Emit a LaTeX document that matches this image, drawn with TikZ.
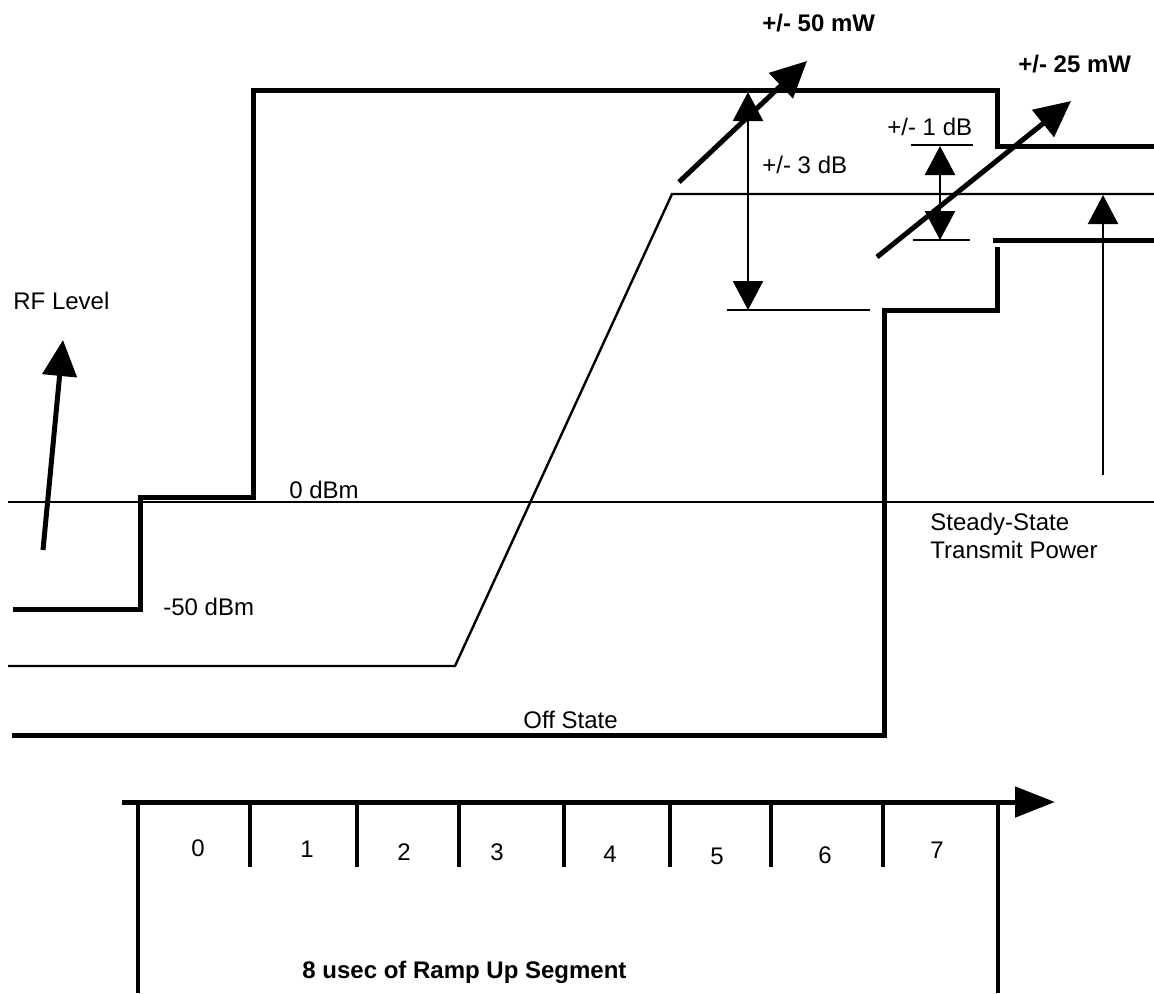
\documentclass[tikz,border=0pt]{standalone}
\usepackage{fontspec}
\setmainfont{Liberation Sans}
\usetikzlibrary{arrows.meta}
\begin{document}
\begin{tikzpicture}[x=0.5pt, y=-0.5pt,
    mask/.style={line width=2.5pt},
    level/.style={line width=1.2pt},
    lbl/.style={font=\fontsize{12}{14}\selectfont, inner sep=0pt, anchor=west},
    bold lbl/.style={lbl, font=\fontsize{12}{14}\selectfont\bfseries},
    tol/.style={line width=1.2pt, >={Triangle[length=14.5pt,width=15pt]}},
    big/.style={line width=2.5pt, >={Triangle[length=18pt,width=17pt]}, ->},
    tick/.style={line width=1.6pt}]
    \useasboundingbox (0,0) rectangle (1154,993);

    % 0 dBm reference
    \draw[line width=1pt] (8,502) -- (1154,502);

    % Upper mask
    \draw[mask] (13,609) -- (140,609) -- (140,497) -- (253,497) -- (253,90)
        -- (997,90) -- (997,146) -- (1154,146);

    % Lower mask
    \draw[mask] (12,735) -- (884,735) -- (884,310) -- (997,310) -- (997,247);
    \draw[mask] (993,240) -- (1154,240);

    % Typical ramp
    \draw[level] (8,666) -- (455,666) -- (672,194) -- (1154,194);

    % Tolerances
    \draw[level] (727,310) -- (870,310);
    \draw[tol, <->] (748,92) -- (748,310);
    \draw[level] (911,145) -- (973,145);
    \draw[level] (913,240) -- (970,240);
    \draw[tol, <->] (940,146) -- (940,240);
    \draw[tol, ->] (1103,475) -- (1103,195);

    \draw[big] (679,182) -- (807,61);
    \draw[big] (877,257) -- (1071,101);
    \draw[big] (43,550) -- (63,340);

    % Labels
    \node (lblRF) [lbl] at (13,301) {RF Level};
    \node (lblZero) [lbl] at (289,490) {0 dBm};
    \node (lblMinus) [lbl] at (163,607) {-50 dBm};
    \node (lblOff) [lbl] at (523,720) {Off State};
    \node (lblThree) [lbl] at (762,165) {+/- 3 dB};
    \node (lblOne) [lbl] at (887,127) {+/- 1 dB};
    \node (lblFifty) [bold lbl] at (762,23) {+/- 50 mW};
    \node (lblTwentyFive) [bold lbl] at (1018,64) {+/- 25 mW};
    \node (lblSteady) [lbl, anchor=base west] at (930,530) {Steady-State};
    \node (lblTransmit) [lbl, anchor=base west] at (930,558) {Transmit Power};

    % Time axis
    \draw[line width=2.5pt, -{Triangle[length=20pt,width=15pt]}] (122,802) -- (1055,802);
    \draw[line width=2pt] (138,802) -- (138,993);
    \draw[line width=2pt] (998,802) -- (998,993);
    \draw[tick] (250,802) -- (250,867) (357,802) -- (357,867) (459,802) -- (459,867)
        (564,802) -- (564,867) (670,802) -- (670,867) (771,802) -- (771,867)
        (883,802) -- (883,867);

    \node (t0) [lbl, anchor=center] at (198,848) {0};
    \node (t1) [lbl, anchor=center] at (307,849) {1};
    \node (t2) [lbl, anchor=center] at (404,852) {2};
    \node (t3) [lbl, anchor=center] at (497,852) {3};
    \node (t4) [lbl, anchor=center] at (610,854) {4};
    \node (t5) [lbl, anchor=center] at (717,856) {5};
    \node (t6) [lbl, anchor=center] at (825,855) {6};
    \node (t7) [lbl, anchor=center] at (937,850) {7};

    \node (lblSegment) [bold lbl, anchor=base west] at (302,978) {8 usec of Ramp Up Segment};
\end{tikzpicture}
\end{document}
